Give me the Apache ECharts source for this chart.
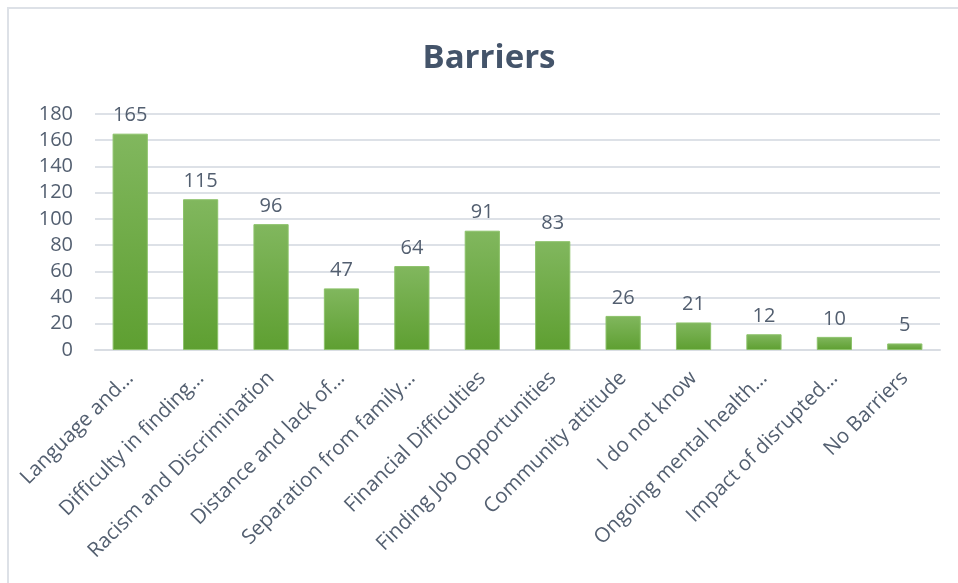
<!DOCTYPE html>
<html>
<head>
<meta charset="utf-8">
<script src="https://cdn.jsdelivr.net/npm/echarts@6/dist/echarts.min.js"></script>
<style>
  html, body { margin: 0; padding: 0; background: #ffffff; }
  #chart { width: 958px; height: 583px; }
</style>
</head>
<body>
<div id="chart"></div>
<script>
// Reported barriers and the number of responses for each
const categories = [
  'Language and…',
  'Difficulty in finding…',
  'Racism and Discrimination',
  'Distance and lack of…',
  'Separation from family…',
  'Financial Difficulties',
  'Finding Job Opportunities',
  'Community attitude',
  'I do not know',
  'Ongoing mental health…',
  'Impact of disrupted…',
  'No Barriers'
];
const counts = [165, 115, 96, 47, 64, 91, 83, 26, 21, 12, 10, 5];
const yTicks = { min: 0, max: 180, interval: 20 };

const textColor = '#535f70';
const labelFont = '"Open Sans", Lato, sans-serif';

const chart = echarts.init(document.getElementById('chart'), null, { renderer: 'canvas' });

chart.setOption({
  backgroundColor: '#ffffff',
  animation: false,
  graphic: [
    {
      type: 'rect',
      shape: { x: 8, y: 8, width: 1000, height: 700 },
      style: { fill: 'none', stroke: '#dde1e7', lineWidth: 2 },
      silent: true
    },
    {
      type: 'text',
      x: 489,
      y: 59,
      style: {
        text: 'Barriers',
        fill: '#44546a',
        font: 'bold 33px ' + labelFont,
        textAlign: 'center',
        textVerticalAlign: 'middle'
      }
    }
  ],
  grid: { left: 95, right: 18, top: 114, bottom: 233, containLabel: false },
  xAxis: {
    type: 'category',
    data: categories,
    axisLine: { lineStyle: { color: '#d9dde3', width: 2 } },
    axisTick: { show: false },
    axisLabel: {
      interval: 0,
      rotate: 45,
      margin: 25,
      color: textColor,
      fontSize: 20.5,
      fontFamily: labelFont
    }
  },
  yAxis: {
    type: 'value',
    min: yTicks.min,
    max: yTicks.max,
    interval: yTicks.interval,
    axisLine: { show: false },
    axisTick: { show: false },
    splitLine: { lineStyle: { color: '#dde1e7', width: 2 } },
    axisLabel: {
      margin: 22,
      color: textColor,
      fontSize: 20,
      fontFamily: labelFont
    }
  },
  series: [{
    type: 'bar',
    data: counts,
    barWidth: '50%',
    itemStyle: {
      color: new echarts.graphic.LinearGradient(0, 0, 0, 1, [
        { offset: 0, color: '#81b75e' },
        { offset: 1, color: '#5e9f31' }
      ]),
      borderColor: '#8cc26a',
      borderWidth: 1
    },
    label: {
      show: true,
      position: 'top',
      distance: 8,
      color: textColor,
      fontSize: 20,
      fontFamily: labelFont
    }
  }]
});
</script>
</body>
</html>
